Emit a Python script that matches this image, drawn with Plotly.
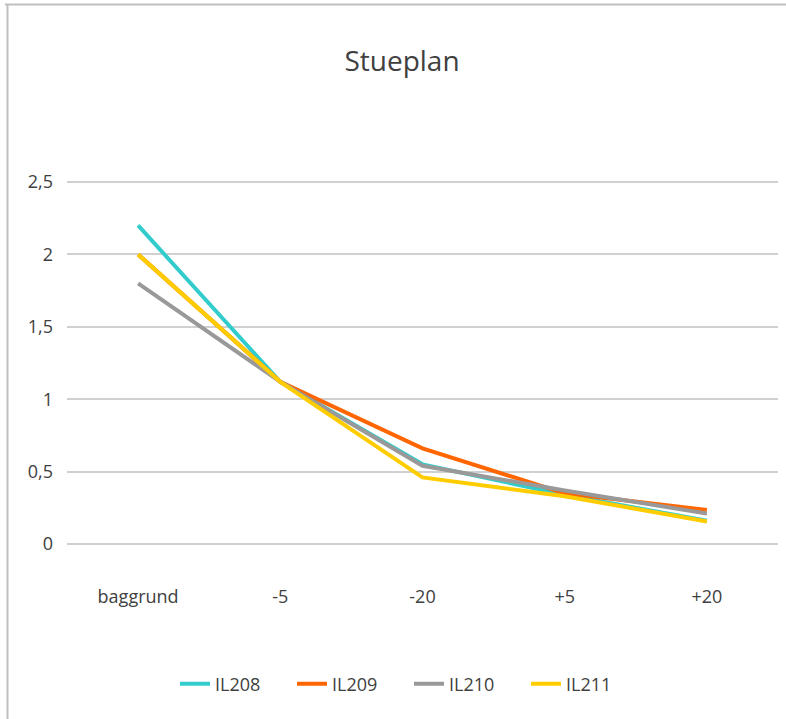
import plotly.graph_objects as go

categories = ["baggrund", "-5", "-20", "+5", "+20"]
il208 = [2.2, 1.12, 0.55, 0.34, 0.16]
il209 = [2.0, 1.12, 0.66, 0.35, 0.235]
il210 = [1.8, 1.12, 0.54, 0.37, 0.21]
il211 = [2.0, 1.12, 0.46, 0.33, 0.155]
series_names = ["IL208", "IL209", "IL210", "IL211"]
colors = ["#33CCCC", "#FF6600", "#999999", "#FFCC00"]
y_ticks = [0, 0.5, 1, 1.5, 2, 2.5]

FONT = "Liberation Sans Narrow, Open Sans, sans-serif"

fig = go.Figure()
for name, vals, c in zip(series_names, [il208, il209, il210, il211], colors):
    fig.add_trace(go.Scatter(x=categories, y=vals, name=name, mode="lines",
                             line=dict(color=c, width=4)))

L, R, T, B = 67, 8, 180, 173
W, H = 786, 719
pw, ph = W - L - R, H - T - B

def px_x(px):
    return (px - L) / pw

def px_y(py):
    return (H - B - py) / ph

fig.update_layout(
    width=W, height=H,
    margin=dict(l=L, r=R, t=T, b=B),
    paper_bgcolor="white", plot_bgcolor="white",
    separators=", ",
    font=dict(family=FONT, color="#404040", size=18),
    title=dict(text="Stueplan", x=402 / W, xanchor="center", y=1 - 61 / H,
               yanchor="middle", font=dict(family=FONT, size=28, color="#404040")),
    xaxis=dict(type="category", range=[-0.5, 4.5], showgrid=False, showline=False,
               ticks="", ticklabelstandoff=38, tickfont=dict(size=18, color="#404040")),
    yaxis=dict(range=[-0.014, 2.514], tickvals=y_ticks, showgrid=True, gridcolor="#D0D0D0",
               gridwidth=1.5, zeroline=False, showline=False, ticks="",
               ticklabelstandoff=13, tickfont=dict(size=18, color="#404040")),
    legend=dict(orientation="h", x=px_x(409), xanchor="center", y=px_y(684),
                yanchor="middle", font=dict(size=18, color="#404040"),
                entrywidth=72, tracegroupgap=0),
    showlegend=True,
    shapes=[
        dict(type="line", xref="paper", yref="paper", x0=px_x(5), x1=px_x(790),
             y0=px_y(4.5), y1=px_y(4.5), line=dict(color="#BFBFBF", width=2)),
        dict(type="line", xref="paper", yref="paper", x0=px_x(7.5), x1=px_x(7.5),
             y0=px_y(4), y1=px_y(725), line=dict(color="#BFBFBF", width=2)),
    ],
)

fig.write_html("out.html")
